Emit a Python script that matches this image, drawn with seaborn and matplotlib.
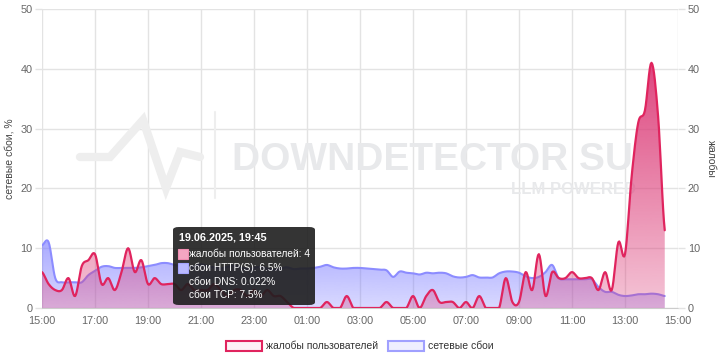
import numpy as np
import pandas as pd
import matplotlib
matplotlib.use("Agg")
import matplotlib.pyplot as plt
import seaborn as sns
from matplotlib.patches import PathPatch, FancyBboxPatch, Patch, Rectangle
from matplotlib.lines import Line2D
import matplotlib.dates as mdates

# 15-minute samples from 19.06.2025 15:00 to 20.06.2025 14:30
start = "2025-06-19 15:00"
complaints = [6, 4, 3, 3, 5, 2, 7, 8, 9, 4, 5, 3, 6, 10, 6, 8,
              4, 5, 4, 4, 4, 3, 4, 3, 3, 3, 4, 3, 2, 3, 3, 2,
              3, 2, 3, 2, 2, 1, 0, 0, 0, 0, 0, 1, 0, 0, 2, 0,
              0, 0, 0, 0, 1, 0, 0, 0, 2, 0, 2, 3, 1, 1, 1, 0,
              1, 0, 2, 0, 0, 0, 5, 1, 1, 6, 3, 9, 2, 6, 5, 5,
              6, 5, 5, 5, 3, 6, 3, 11, 9, 22, 31, 33, 41, 32, 13]
network = [10.5, 11.0, 5.0, 4.3, 4.3, 4.3, 4.3, 5.5, 6.2, 6.9, 7.0, 6.7, 6.7, 6.7, 6.7, 6.8,
           7.0, 7.2, 7.5, 7.5, 7.2, 7.0, 6.8, 7.0, 7.3, 7.0, 6.8, 6.6, 6.9, 7.1, 6.8, 6.5,
           6.7, 6.9, 6.6, 6.4, 6.6, 6.8, 6.5, 6.6, 6.6, 6.7, 6.9, 7.2, 6.8, 6.6, 6.6, 6.7,
           6.7, 6.6, 6.5, 6.4, 6.3, 5.2, 6.1, 5.9, 5.8, 5.6, 5.9, 5.8, 5.9, 5.8, 5.3, 5.1,
           5.2, 5.5, 5.1, 5.1, 5.1, 5.8, 6.1, 6.1, 5.9, 5.3, 5.0, 5.2, 6.0, 7.2, 5.0, 4.8,
           4.8, 4.8, 4.8, 4.8, 3.5, 2.7, 2.7, 2.2, 2.0, 2.1, 2.3, 2.3, 2.4, 2.3, 2.0]
tick_labels = ["15:00", "17:00", "19:00", "21:00", "23:00", "01:00", "03:00",
               "05:00", "07:00", "09:00", "11:00", "13:00", "15:00"]
y_ticks = [0, 10, 20, 30, 40, 50]

tooltip_title = "19.06.2025, 19:45"
tooltip_lines = ["жалобы пользователей: 4", "сбои HTTP(S): 6.5%",
                 "сбои DNS: 0.022%", "сбои TCP: 7.5%"]

RED = "#e0245e"
BLUE = "#8c8cff"
GREY = "#666666"

W, H = 720, 360


def fx(px):
    return px / W


def fy(py):
    return 1 - py / H


def smooth(x, y, n=8):
    # catmull-rom through the samples so the curves look like the spline chart
    x = np.asarray(x, float)
    y = np.asarray(y, float)
    yp = np.concatenate([[y[0]], y, [y[-1]]])
    t = np.linspace(0, 1, n, endpoint=False)
    xo, yo = [], []
    for i in range(len(y) - 1):
        p0, p1, p2, p3 = yp[i], yp[i + 1], yp[i + 2], yp[i + 3]
        seg = 0.5 * (2 * p1 + (-p0 + p2) * t + (2 * p0 - 5 * p1 + 4 * p2 - p3) * t ** 2
                     + (-p0 + 3 * p1 - 3 * p2 + p3) * t ** 3)
        xo.append(x[i] + (x[i + 1] - x[i]) * t)
        yo.append(seg)
    xo.append([x[-1]])
    yo.append([y[-1]])
    return np.concatenate(xo), np.clip(np.concatenate(yo), 0, None)


def gradient_fill(ax, x, y, rgb, a_bot, a_top, top, z):
    poly = ax.fill_between(x, 0, y, facecolor="none", edgecolor="none")
    patch = PathPatch(poly.get_paths()[0], transform=ax.transData,
                      facecolor="none", edgecolor="none")
    ax.add_patch(patch)
    arr = np.zeros((256, 1, 4))
    arr[..., :3] = matplotlib.colors.to_rgb(rgb)
    arr[:, 0, 3] = np.linspace(a_bot, a_top, 256)
    im = ax.imshow(arr, extent=[x[0], x[-1], 0, top], origin="lower",
                   aspect="auto", zorder=z, interpolation="bilinear")
    im.set_clip_path(patch)


sns.set_style("white")
plt.rcParams["font.family"] = ["Liberation Sans", "DejaVu Sans"]

times = pd.date_range(start, periods=len(complaints), freq="15min")
xnum = mdates.date2num(times)
tick_pos = mdates.date2num(pd.date_range(start, periods=len(tick_labels), freq="2h"))

fig = plt.figure(figsize=(7.2, 3.6), dpi=100)
ax = fig.add_axes([fx(42), fy(308), fx(678) - fx(42), fy(9) - fy(308)])

# watermark, sits under the series
wm = "#e8e9eb"
logo_x = [80, 110, 143, 166, 180, 200]
logo_y = [157, 157, 120, 188, 152, 157]
ax.add_artist(Line2D([fx(v) for v in logo_x], [fy(v) for v in logo_y], transform=fig.transFigure,
                     color="#eeeeee", lw=6, solid_joinstyle="miter", zorder=1, clip_on=False))
ax.add_artist(Line2D([fx(215), fx(215)], [fy(112), fy(198)], transform=fig.transFigure,
                     color="#eeeeee", lw=1.5, zorder=1, clip_on=False))
ax.text(fx(232), fy(160), "DOWNDETECTOR SU", transform=fig.transFigure, fontsize=28,
        fontweight="bold", color=wm, ha="left", va="center", zorder=1)
ax.text(fx(636), fy(190), "LLM POWERED", transform=fig.transFigure, fontsize=12,
        fontweight="bold", color=wm, ha="right", va="center", zorder=1)

# network failures first, complaints over it
bx, by = smooth(xnum, network)
rx, ry = smooth(xnum, complaints)
gradient_fill(ax, bx, by, "#7878ff", 0.28, 0.62, max(network), 2)
sns.lineplot(x=bx, y=by, ax=ax, color=BLUE, lw=1.5, sort=False, estimator=None, zorder=3)
gradient_fill(ax, rx, ry, "#dc3c78", 0.3, 0.95, max(complaints), 4)
sns.lineplot(x=rx, y=ry, ax=ax, color=RED, lw=1.6, sort=False, estimator=None, zorder=5)

ax.set_xlim(tick_pos[0], tick_pos[-1])
ax.set_ylim(0, 50)
ax.set_xticks(tick_pos, tick_labels)
ax.set_yticks(y_ticks)
ax.grid(True, color="#e3e3e3", lw=1)
ax.set_axisbelow(True)
for s in ["top", "left", "right"]:
    ax.spines[s].set_visible(False)
ax.spines["bottom"].set_color("#cccccc")
ax.tick_params(axis="x", length=0, pad=6, labelsize=7.8, labelcolor=GREY)
ax.tick_params(axis="y", length=5, width=1, color="#e3e3e3", pad=2, labelsize=7.8, labelcolor=GREY)

ax2 = ax.twinx()
ax2.set_ylim(0, 50)
ax2.set_yticks(y_ticks)
for s in ax2.spines.values():
    s.set_visible(False)
ax2.tick_params(axis="y", length=5, width=1, color="#e3e3e3", pad=2, labelsize=7.8, labelcolor=GREY)

fig.text(fx(10), fy(159), "сетевые сбои, %", rotation=90, ha="center", va="center",
         fontsize=7.5, color="#444444")
fig.text(fx(711), fy(159), "жалобы", rotation=270, ha="center", va="center",
         fontsize=7.5, color="#444444")

# tooltip
tip = FancyBboxPatch((fx(173), fy(305)), fx(142), fy(0) - fy(78),
                     boxstyle="round,pad=0,rounding_size=0.008", transform=fig.transFigure,
                     facecolor="#1e1e1e", edgecolor="none", alpha=0.9, zorder=10)
fig.patches.append(tip)
fig.text(fx(179), fy(237), tooltip_title, fontsize=7.8, fontweight="bold", color="white",
         ha="left", va="center", zorder=11)
line_y = [254, 268, 282, 295]
for yy, txt in zip(line_y, tooltip_lines):
    fig.text(fx(189), fy(yy), txt, fontsize=7.3, color="white", ha="left", va="center", zorder=11)
fig.patches.append(Rectangle((fx(178), fy(259)), fx(10), fy(0) - fy(10), transform=fig.transFigure,
                             facecolor="#f4a6c2", edgecolor="#f08cb0", lw=0.8, zorder=11))
fig.patches.append(Rectangle((fx(178), fy(273)), fx(10), fy(0) - fy(10), transform=fig.transFigure,
                             facecolor="#b9b9ff", edgecolor="#a5a5ff", lw=0.8, zorder=11))

handles = [Patch(facecolor="#fdf1f5", edgecolor=RED, lw=1.5, label="жалобы пользователей"),
           Patch(facecolor="#eeeeff", edgecolor="#a0a0ff", lw=1.5, label="сетевые сбои")]
fig.legend(handles=handles, loc="center", bbox_to_anchor=(0.5, fy(346)), ncol=2, frameon=False,
           fontsize=7.5, handlelength=3.4, handleheight=1.1, handletextpad=0.4, columnspacing=1.0,
           labelcolor="#333333")

fig.savefig("out.png", dpi=100)
